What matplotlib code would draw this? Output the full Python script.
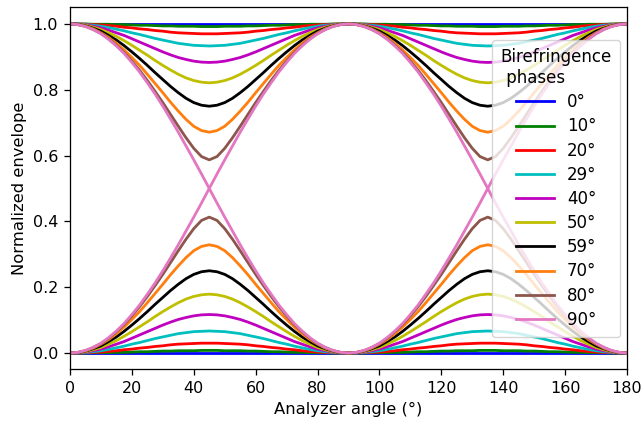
import numpy as np
import matplotlib
matplotlib.use("Agg")
import matplotlib.pyplot as plt

plt.rcParams['font.size'] = 11.5
plt.rcParams['axes.linewidth'] = 0.92
for ax_name in ('xtick', 'ytick'):
    plt.rcParams[ax_name + '.major.size'] = 4.0
    plt.rcParams[ax_name + '.major.width'] = 0.92
    plt.rcParams[ax_name + '.major.pad'] = 4.5

# birefringence phases (degrees) shown in the legend
phases = [0, 10, 20, 29, 40, 50, 59, 70, 80, 90]
colors = ['b', 'g', 'r', 'c', 'm', 'y', 'k', 'tab:orange', 'tab:brown', 'tab:pink']

# analyzer angles for the first quarter period, 0..45 deg every 2.5 deg
quarter_angles = np.arange(0, 45.1, 2.5)

lower_0 = [0.0] * 19
lower_10 = [0, 0, 0, 0.001, 0.001, 0.001, 0.002, 0.002, 0.003, 0.004, 0.004, 0.005, 0.006, 0.006, 0.007, 0.007, 0.007, 0.008, 0.008]
lower_20 = [0, 0, 0.001, 0.002, 0.003, 0.005, 0.007, 0.010, 0.012, 0.015, 0.017, 0.020, 0.022, 0.025, 0.027, 0.028, 0.029, 0.030, 0.030]
lower_29 = [0, 0, 0.002, 0.004, 0.007, 0.011, 0.016, 0.021, 0.027, 0.032, 0.038, 0.044, 0.049, 0.054, 0.059, 0.062, 0.065, 0.066, 0.067]
lower_40 = [0, 0.001, 0.003, 0.007, 0.012, 0.019, 0.027, 0.035, 0.045, 0.055, 0.065, 0.075, 0.085, 0.094, 0.102, 0.108, 0.113, 0.116, 0.117]
lower_50 = [0, 0.001, 0.004, 0.010, 0.017, 0.027, 0.038, 0.051, 0.065, 0.080, 0.095, 0.111, 0.126, 0.140, 0.153, 0.164, 0.172, 0.177, 0.179]
lower_59 = [0, 0.001, 0.006, 0.013, 0.022, 0.035, 0.049, 0.066, 0.085, 0.105, 0.126, 0.148, 0.169, 0.190, 0.209, 0.226, 0.239, 0.247, 0.250]
lower_70 = [0, 0.002, 0.007, 0.015, 0.027, 0.041, 0.059, 0.079, 0.102, 0.126, 0.153, 0.181, 0.209, 0.238, 0.265, 0.290, 0.311, 0.324, 0.329]
lower_80 = [0, 0.002, 0.007, 0.017, 0.029, 0.045, 0.065, 0.087, 0.113, 0.141, 0.172, 0.205, 0.239, 0.275, 0.311, 0.346, 0.378, 0.403, 0.413]
lower_90 = [0, 0.002, 0.008, 0.017, 0.030, 0.047, 0.067, 0.090, 0.117, 0.146, 0.179, 0.213, 0.250, 0.289, 0.329, 0.371, 0.413, 0.456, 0.500]

lowers = [lower_0, lower_10, lower_20, lower_29, lower_40,
          lower_50, lower_59, lower_70, lower_80, lower_90]


def full_range(vals):
    # mirror the quarter about 45 deg, then repeat for the second half
    vals = np.asarray(vals)
    half = np.concatenate([vals, vals[-2::-1]])
    return np.concatenate([half, half[1:]])


x = np.concatenate([quarter_angles, 90 - quarter_angles[-2::-1]])
x = np.concatenate([x, 90 + x[1:]])

fig = plt.figure(figsize=(6.44, 4.25), dpi=100)
ax = fig.add_axes([0.1087, 0.1306, 0.9736 - 0.1087, 0.9824 - 0.1306])

for ph, col, low in zip(phases, colors, lowers):
    y_low = full_range(low)
    ax.plot(x, y_low, color=col, lw=2, label=f"{ph}°")
    ax.plot(x, 1 - y_low, color=col, lw=2)

ax.set_xlim(0, 180)
ax.set_xticks(np.arange(0, 181, 20))
ax.set_yticks(np.arange(0, 1.01, 0.2))
ax.set_xlabel("Analyzer angle (°)", fontsize=11.8)
ax.set_ylabel("Normalized envelope", fontsize=11.8)
ax.legend(title="Birefringence\n phases", loc="center right",
          fontsize=12, title_fontsize=12, labelspacing=0.37,
          borderpad=0.5, borderaxespad=0.4, handlelength=2.25)

fig.savefig("out.png", dpi=100)
